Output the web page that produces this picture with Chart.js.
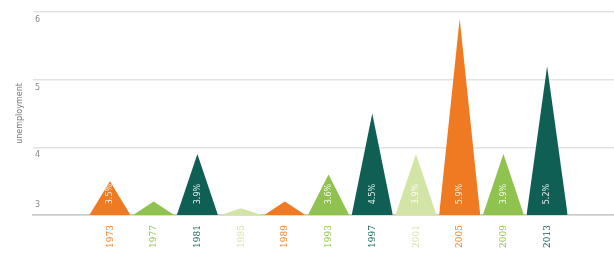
<!DOCTYPE html>
<html>
<head>
<meta charset="utf-8">
<script src="https://cdn.jsdelivr.net/npm/chart.js@4/dist/chart.umd.min.js"></script>
<style>
  html, body { margin: 0; padding: 0; background: #fff; }
  #wrap { width: 614px; height: 256px; }
</style>
</head>
<body>
<div id="wrap"><canvas id="grafico"></canvas></div>
<script>
// Datos
var anios = ['1973', '1977', '1981', '1985', '1989', '1993', '1997', '2001', '2005', '2009', '2013'];
var valores = [3.5, 3.2, 3.9, 3.1, 3.2, 3.6, 4.5, 3.9, 5.9, 3.9, 5.2];
var etiquetas = ['3.5%', '3.2%', '3.9%', '3.1%', '3.2%', '3.6%', '4.5%', '3.9%', '5.9%', '3.9%', '5.2%'];
var marcasY = [3, 4, 5, 6];
var colores = ['#ef7a21', '#8fc24e', '#0f5f55', '#d3e5a6'];

var anchoMedio = 0.47;

function colorDe(i) { return colores[i % 4]; }

// un triangulo por año
var datasets = anios.map(function (a, i) {
    return {
        label: a,
        data: [
            { x: i - anchoMedio, y: marcasY[0] },
            { x: i, y: valores[i] },
            { x: i + anchoMedio, y: marcasY[0] }
        ],
        backgroundColor: colorDe(i),
        borderWidth: 0,
        pointRadius: 0,
        tension: 0,
        fill: 'start'
    };
});

// textos de los triangulos y del eje Y
var textos = {
    id: 'textos',
    afterDatasetsDraw: function (chart) {
        var ctx = chart.ctx;
        var xs = chart.scales.x, ys = chart.scales.y;
        ctx.save();
        ctx.font = '9px "DejaVu Sans Condensed", "DejaVu Sans"';
        ctx.fillStyle = 'rgba(255,255,255,0.9)';
        ctx.textAlign = 'center';
        ctx.textBaseline = 'middle';
        valores.forEach(function (v, i) {
            if (v < 3.45) return;
            ctx.save();
            ctx.translate(xs.getPixelForValue(i), ys.getPixelForValue(3.31));
            ctx.rotate(-Math.PI / 2);
            ctx.fillText(etiquetas[i], 0, 0);
            ctx.restore();
        });
        ctx.fillStyle = '#8a8a8a';
        ctx.font = '8px "DejaVu Sans"';
        ctx.textAlign = 'left';
        marcasY.forEach(function (m, k) {
            var y = ys.getPixelForValue(m) + (k === 0 ? -10 : 8);
            ctx.fillText(String(m), chart.chartArea.left + 2, y);
        });
        ctx.restore();
    }
};

var ctx = document.getElementById('grafico').getContext('2d');
var grafico = new Chart(ctx, {
    type: 'line',
    data: { datasets: datasets },
    options: {
        responsive: true,
        maintainAspectRatio: false,
        animation: false,
        layout: { padding: { top: 12, left: 0, right: 0, bottom: 0 } },
        plugins: {
            legend: { display: false },
            tooltip: { enabled: false }
        },
        scales: {
            x: {
                type: 'linear',
                min: -1.76,
                max: 11.53,
                afterBuildTicks: function (s) {
                    s.ticks = anios.map(function (a, i) { return { value: i }; });
                },
                afterFit: function (s) { s.height = 41; },
                grid: { display: false, drawTicks: false },
                border: { display: true, color: '#c8c8c8', width: 1.5 },
                ticks: {
                    autoSkip: false,
                    minRotation: 90,
                    maxRotation: 90,
                    padding: 10,
                    font: { size: 10, family: '"DejaVu Serif Condensed", "DejaVu Serif"' },
                    color: function (c) { return colorDe(c.index); },
                    callback: function (v, i) { return anios[i]; }
                }
            },
            y: {
                min: 3,
                max: 6,
                afterBuildTicks: function (s) {
                    s.ticks = marcasY.map(function (m) { return { value: m }; });
                },
                afterFit: function (s) { s.width = 33; },
                grid: { color: '#e3e3e3', lineWidth: 1.5, drawTicks: false },
                border: { display: false },
                ticks: { display: false },
                title: {
                    display: true,
                    text: 'unemployment',
                    color: '#777',
                    font: { size: 8, family: '"DejaVu Sans"' },
                    padding: { top: 15, bottom: 0 }
                }
            }
        }
    },
    plugins: [textos]
});
</script>
</body>
</html>
